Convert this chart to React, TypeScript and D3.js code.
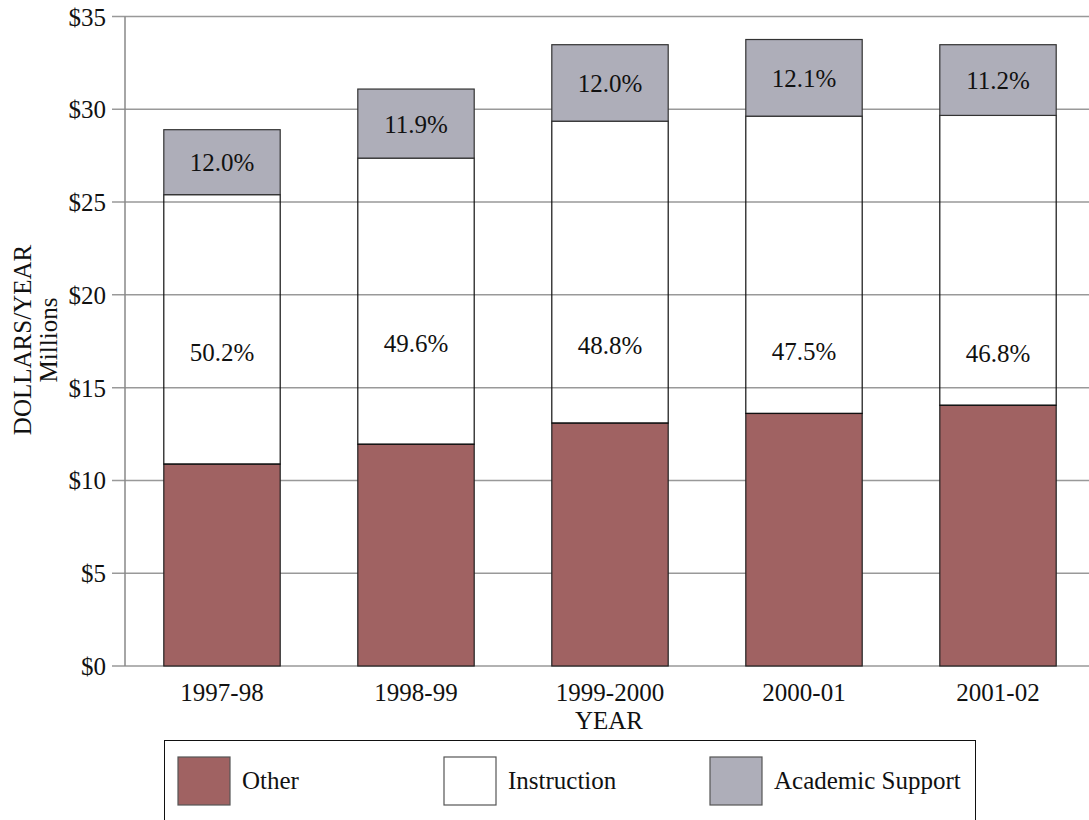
import React from "react";
import * as d3 from "d3";

const categories = ["1997-98", "1998-99", "1999-2000", "2000-01", "2001-02"];
const otherValues = [10.88, 11.95, 13.09, 13.61, 14.05];
const instructionValues = [14.52, 15.42, 16.27, 16.02, 15.62];
const academicValues = [3.5, 3.72, 4.12, 4.13, 3.81];
const instructionLabels = ["50.2%", "49.6%", "48.8%", "47.5%", "46.8%"];
const academicLabels = ["12.0%", "11.9%", "12.0%", "12.1%", "11.2%"];
const instructionLabelAt = [16.9, 17.4, 17.3, 16.95, 16.85];
const yTicks = [0, 5, 10, 15, 20, 25, 30, 35];
const legendItems = ["Other", "Instruction", "Academic Support"];

const W = 1089;
const H = 820;
const FONT = "'Liberation Serif', 'DejaVu Serif', serif";
const RED = "#A06262";
const GRAY = "#AEAEB9";
const GRID = "#999999";

const T = (props: any) => <text fontFamily={FONT} fontSize={25} fill="#111" {...props} />;

export default function App() {
  const x = d3.scaleBand<string>().domain(categories).range([125, 1095]).paddingInner(0.4).paddingOuter(0.2);
  const y = d3.scaleLinear().domain([0, 35]).range([666, 16.5]);
  const legendColors = [RED, "#FFFFFF", GRAY];

  const rows = categories.map((c, i) => {
    const o = otherValues[i];
    const ins = o + instructionValues[i];
    const top = ins + academicValues[i];
    return { c, o, ins, top, i };
  });

  return (
    <svg width={W} height={H} style={{ position: "absolute", left: 0, top: 0, background: "#fff" }}>
      {/* gridlines */}
      {yTicks.map((t) => (
        <g key={t}>
          <line x1={112} x2={W} y1={y(t)} y2={y(t)} stroke={GRID} strokeWidth={1.5} />
          <T x={106} y={y(t) + 9} textAnchor="end">
            {"$" + t}
          </T>
        </g>
      ))}
      <line x1={125} x2={125} y1={y(35)} y2={y(0)} stroke="#888" strokeWidth={1.5} />

      {/* bars */}
      {rows.map((r) => {
        const bx = x(r.c)!;
        const bw = x.bandwidth();
        const cx = bx + bw / 2;
        return (
          <g key={r.c}>
            <rect x={bx} y={y(r.o)} width={bw} height={y(0) - y(r.o)} fill={RED} stroke="#222" strokeWidth={1.2} />
            <rect x={bx} y={y(r.ins)} width={bw} height={y(r.o) - y(r.ins)} fill="none" stroke="#111" strokeWidth={1.2} />
            <rect x={bx} y={y(r.top)} width={bw} height={y(r.ins) - y(r.top)} fill={GRAY} stroke="#333" strokeWidth={1.2} />
            <T x={cx} y={(y(r.top) + y(r.ins)) / 2 + 9} textAnchor="middle">
              {academicLabels[r.i]}
            </T>
            <T x={cx} y={y(instructionLabelAt[r.i]) + 9} textAnchor="middle">
              {instructionLabels[r.i]}
            </T>
            <T x={cx} y={701} textAnchor="middle">
              {r.c}
            </T>
          </g>
        );
      })}

      {/* axis titles */}
      <T x={609} y={729} textAnchor="middle">
        YEAR
      </T>
      <T transform="translate(31,340) rotate(-90)" textAnchor="middle">
        DOLLARS/YEAR
      </T>
      <T transform="translate(57,340) rotate(-90)" textAnchor="middle">
        Millions
      </T>

      {/* legend */}
      <rect x={164.5} y={740.5} width={811} height={100} fill="#fff" stroke="#111" strokeWidth={1} />
      {legendItems.map((name, i) => {
        const lx = 178 + i * 266;
        return (
          <g key={name}>
            <rect x={lx} y={757} width={52} height={48} fill={legendColors[i]} stroke="#555" strokeWidth={1.2} />
            <T x={lx + 64} y={789}>
              {name}
            </T>
          </g>
        );
      })}
    </svg>
  );
}
